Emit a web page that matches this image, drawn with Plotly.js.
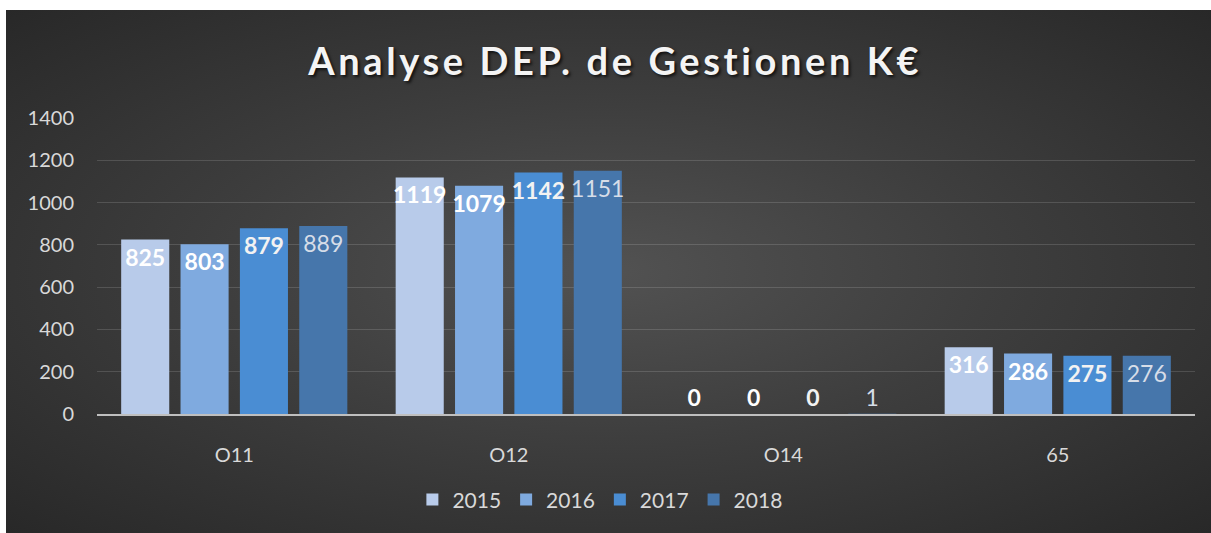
<!DOCTYPE html>
<html>
<head>
<meta charset="utf-8">
<script src="https://cdn.plot.ly/plotly-3.0.1.min.js"></script>
<style>
  html, body { margin: 0; padding: 0; background: #ffffff; }
  #bg {
    position: absolute; left: 6px; top: 10px; width: 1205px; height: 523px;
    background: radial-gradient(ellipse at 50% 50%, #525252 0%, #3e3e3e 45%, #282828 100%);
  }
  #chart { position: absolute; left: 0; top: 0; width: 1211px; height: 533px; }
  .gtitle { letter-spacing: 3.6px; text-shadow: 2px 2px 3px rgba(0,0,0,0.7); }
</style>
</head>
<body>
<div id="bg"></div>
<div id="chart"></div>
<script>
// données
const categories = ['O11', 'O12', 'O14', '65'];
const years = ['2015', '2016', '2017', '2018'];
const v2015 = [825, 1119, 0, 316];
const v2016 = [803, 1079, 0, 286];
const v2017 = [879, 1142, 0, 275];
const v2018 = [889, 1151, 1, 276];

const series = [v2015, v2016, v2017, v2018];
const colors = ['#b8cbea', '#7faadf', '#4a8dd3', '#4676ab'];
const labelFont = [
    { color: '#ffffff', size: 23, family: 'Lato, sans-serif', weight: 'bold' },
    { color: '#ffffff', size: 23, family: 'Lato, sans-serif', weight: 'bold' },
    { color: '#f2f2f2', size: 23, family: 'Lato, sans-serif', weight: 'bold' },
    { color: '#d6dde8', size: 23, family: 'Lato, sans-serif' }
];

const traces = series.map((vals, i) => ({
    type: 'bar',
    name: years[i],
    x: categories,
    y: vals,
    text: vals.map(v => String(v)),
    textposition: vals.map(v => v > 20 ? 'inside' : 'outside'),
    insidetextanchor: 'end',
    textangle: 0,
    constraintext: 'none',
    cliponaxis: false,
    textfont: labelFont[i],
    outsidetextfont: labelFont[i],
    insidetextfont: labelFont[i],
    marker: { color: colors[i], line: { width: 0 } },
    hoverinfo: 'skip'
}));

const layout = {
    width: 1211,
    height: 533,
    paper_bgcolor: 'rgba(0,0,0,0)',
    plot_bgcolor: 'rgba(0,0,0,0)',
    margin: { l: 97, r: 16, t: 118, b: 119 },
    font: { family: 'Lato, sans-serif', color: '#d9d9d9', size: 20 },
    title: {
        text: 'Analyse DEP. de Gestionen K€',
        font: { size: 38, color: '#f4f4f4', family: 'Lato, sans-serif', weight: 'bold' },
        x: 0.508, xanchor: 'center',
        y: 0.885, yanchor: 'middle'
    },
    barmode: 'group',
    bargap: 0.135,
    bargroupgap: 0.19,
    xaxis: {
        type: 'category',
        showgrid: false,
        showline: true,
        linecolor: '#bfbfbf',
        linewidth: 2,
        ticks: '',
        ticklabelstandoff: 22,
        tickfont: { size: 20, color: '#d9d9d9' }
    },
    yaxis: {
        range: [0, 1400],
        dtick: 200,
        showgrid: true,
        gridcolor: 'rgba(255,255,255,0.14)',
        gridwidth: 1,
        zeroline: false,
        showline: false,
        ticks: '',
        ticklabelstandoff: 22,
        tickfont: { size: 20, color: '#d9d9d9' }
    },
    legend: {
        orientation: 'h',
        x: 0.458, xanchor: 'center',
        y: -0.29, yanchor: 'middle',
        font: { size: 21, color: '#d9d9d9' },
        itemwidth: 30,
        traceorder: 'normal'
    },
    showlegend: true
};

Plotly.newPlot('chart', traces, layout, { displayModeBar: false, staticPlot: true });
</script>
</body>
</html>
